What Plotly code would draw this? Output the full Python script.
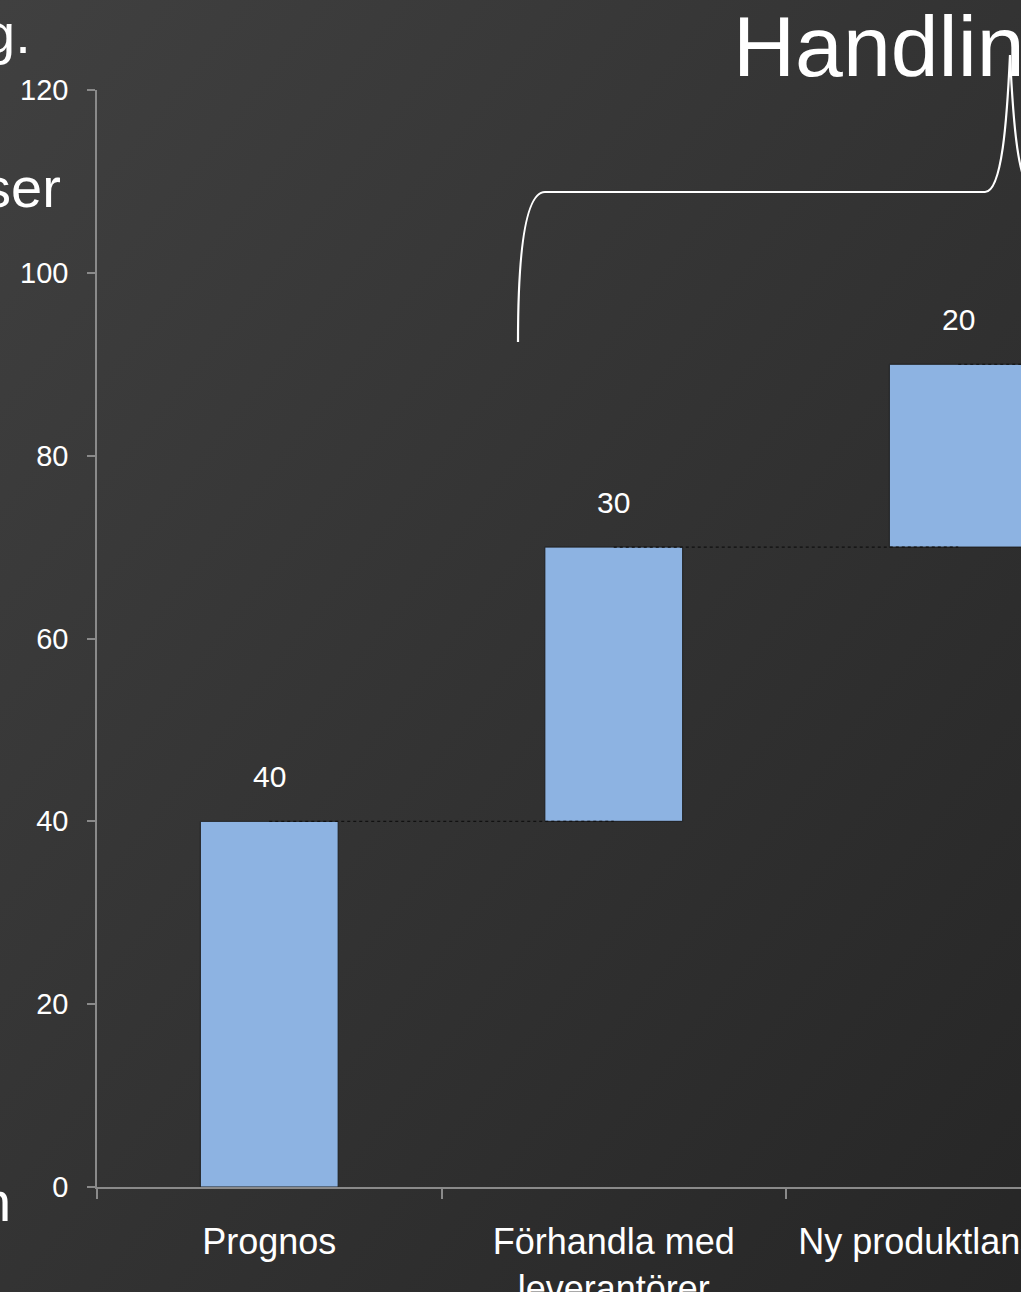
import base64
import plotly.graph_objects as go

# ---- data ----
categories = ["Prognos", "Förhandla med<br>leverantörer", "Ny produktlansering"]
deltas = [40, 30, 20]
y_ticks = [0, 20, 40, 60, 80, 100, 120]
title_text = "Handlingar"
side_texts = ["g.", "ser", "n"]

# cumulative bases / tops
bases, tops = [], []
run = 0
for d in deltas:
    bases.append(run)
    run += d
    tops.append(run)

W, H = 1021, 1292
L, R, T, B = 97, 0, 90, 105
PW, PH = W - L - R, H - T - B


def px(xp):
    return (xp - L) / PW


def py(yp):
    return (H - B - yp) / PH


fig = go.Figure()

fig.add_trace(go.Bar(
    x=categories, y=deltas, base=bases, width=0.4,
    marker=dict(color="#8DB3E2", line=dict(color="#1e1e1e", width=1)),
    hoverinfo="skip", showlegend=False,
))

# connectors from centre of one bar to centre of next
for i, t in enumerate(tops):
    fig.add_trace(go.Scatter(
        x=[i, i + 1], y=[t, t], xaxis="x2", mode="lines",
        line=dict(color="#111111", width=1.2, dash="dot"),
        hoverinfo="skip", showlegend=False,
    ))

# value labels
for c, d, t in zip(categories, deltas, tops):
    fig.add_annotation(x=c, y=t, text=str(d), showarrow=False, yshift=45,
                       yanchor="middle",
                       font=dict(size=30, color="white", family="Liberation Sans, Arial"))

# title fragment at top right
fig.add_annotation(xref="paper", yref="paper", x=px(731), y=py(46), text=title_text,
                   showarrow=False, xanchor="left", yanchor="middle",
                   font=dict(size=86, color="white", family="Liberation Sans, Arial"))

# cut-off side texts at left
for txt, xr_, ym in zip(side_texts, [33, 63, 13], [33, 188, 1201]):
    fig.add_annotation(xref="paper", yref="paper", x=px(xr_), y=py(ym), text=txt,
                       showarrow=False, xanchor="right", yanchor="middle",
                       font=dict(size=56, color="white", family="Liberation Sans, Arial"))

# curly brace
pts = [(518, 342), (518, 260), (524, 192), (545, 192), (985, 192),
       (1002, 192), (1007, 120), (1010, 55), (1013, 120), (1018, 192), (1035, 192)]


def P(p):
    return f"{px(p[0])},{py(p[1])}"


path = (f"M {P(pts[0])} C {P(pts[1])} {P(pts[2])} {P(pts[3])} L {P(pts[4])} "
        f"C {P(pts[5])} {P(pts[6])} {P(pts[7])} C {P(pts[8])} {P(pts[9])} {P(pts[10])}")
fig.add_shape(type="path", path=path, xref="paper", yref="paper",
              line=dict(color="white", width=2.2), layer="above")

# background gradient
svg = (f'<svg xmlns="http://www.w3.org/2000/svg" width="{W}" height="{H}">'
       '<defs><linearGradient id="g" x1="0" y1="0" x2="1" y2="1">'
       '<stop offset="0" stop-color="#404040"/><stop offset="1" stop-color="#262626"/>'
       '</linearGradient></defs>'
       f'<rect width="{W}" height="{H}" fill="url(#g)"/></svg>')
src = "data:image/svg+xml;base64," + base64.b64encode(svg.encode()).decode()
fig.add_layout_image(source=src, xref="paper", yref="paper", x=-L / PW, y=1 + T / PH,
                     sizex=W / PW, sizey=H / PH, xanchor="left", yanchor="top",
                     sizing="stretch", layer="below")

xr = [-0.5, -0.5 + PW / 344.5]
fig.update_layout(
    width=W, height=H,
    margin=dict(l=L, r=R, t=T, b=B, pad=0, autoexpand=False),
    paper_bgcolor="#333333", plot_bgcolor="rgba(0,0,0,0)",
    font=dict(family="Liberation Sans, Arial", color="white"),
    bargap=0.6,
    xaxis=dict(type="category", range=xr, showgrid=False, zeroline=False,
               showline=True, linecolor="#8a8a8a", linewidth=1.5,
               ticks="outside", tickson="boundaries", ticklen=10, tickwidth=1.5,
               tickcolor="#8a8a8a", tickfont=dict(size=36, color="white"),
               tickangle=0, automargin=False, ticklabelstandoff=22),
    xaxis2=dict(overlaying="x", range=xr, visible=False),
    yaxis=dict(range=[0, 120], tickvals=y_ticks, showgrid=False, zeroline=False,
               showline=True, linecolor="#8a8a8a", linewidth=1.5,
               ticks="outside", ticklen=8, tickwidth=1.5, tickcolor="#8a8a8a",
               tickfont=dict(size=29, color="white"), ticklabelstandoff=13,
               automargin=False),
)

fig.write_html("out.html")
